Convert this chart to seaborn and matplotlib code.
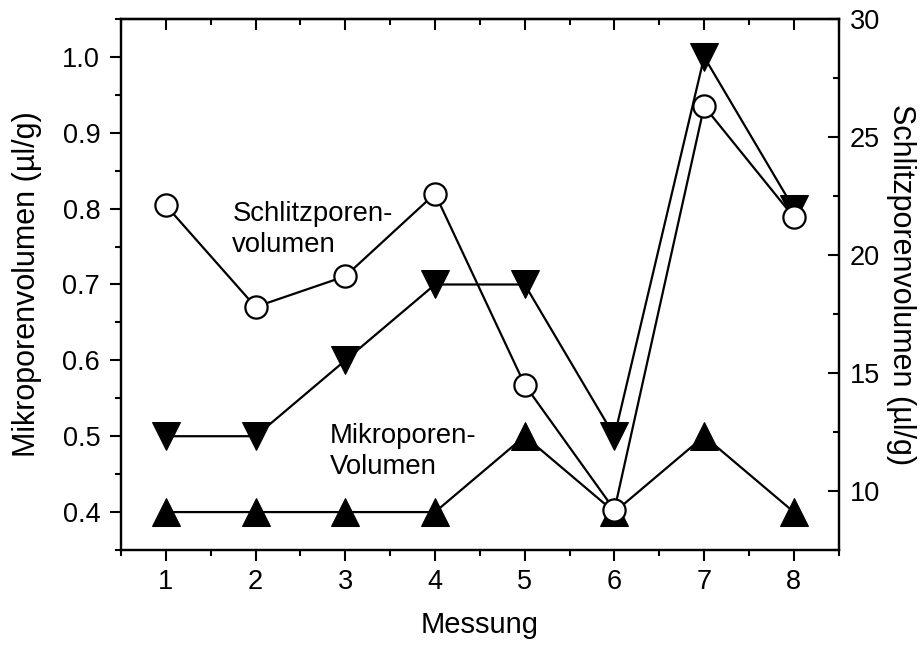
import matplotlib
matplotlib.use("Agg")
import matplotlib.pyplot as plt
import seaborn as sns
from matplotlib.ticker import MultipleLocator

# Data
messung = [1, 2, 3, 4, 5, 6, 7, 8]
mikro_down = [0.5, 0.5, 0.6, 0.7, 0.7, 0.5, 1.0, 0.8]
mikro_up = [0.4, 0.4, 0.4, 0.4, 0.5, 0.4, 0.5, 0.4]
schlitz = [22.1, 17.8, 19.1, 22.6, 14.5, 9.2, 26.3, 21.6]

sns.set_theme(style="white")
plt.rcParams["font.family"] = ["Liberation Sans", "DejaVu Sans"]
plt.rcParams["text.color"] = "black"

fig = plt.figure(figsize=(9.24, 6.46), dpi=100)
ax = fig.add_axes([0.131, 0.1486, 0.7767, 0.822])
ax2 = ax.twinx()

line_kw = dict(color="black", linewidth=1.6, markeredgecolor="black")
sns.lineplot(x=messung, y=mikro_up, ax=ax, marker="^", markersize=20,
             markerfacecolor="black", **line_kw)
sns.lineplot(x=messung, y=mikro_down, ax=ax, marker="v", markersize=20,
             markerfacecolor="black", **line_kw)
sns.lineplot(x=messung, y=schlitz, ax=ax2, marker="o", markersize=16,
             markerfacecolor="white", markeredgewidth=1.6, **line_kw)

ax.set_xlim(0.5, 8.5)
ax.set_ylim(0.35, 1.05)
ax2.set_ylim(7.5, 30)

ax.xaxis.set_major_locator(MultipleLocator(1))
ax.xaxis.set_minor_locator(MultipleLocator(0.5))
ax.yaxis.set_major_locator(MultipleLocator(0.1))
ax.yaxis.set_minor_locator(MultipleLocator(0.05))
ax2.yaxis.set_major_locator(MultipleLocator(5))
ax2.yaxis.set_minor_locator(MultipleLocator(2.5))
ax.yaxis.set_major_formatter(plt.FormatStrFormatter("%.1f"))

for a in (ax, ax2):
    for s in a.spines.values():
        s.set_visible(True)
        s.set_color("black")
        s.set_linewidth(1.6)

ax.tick_params(axis="both", which="major", direction="out", length=8, width=1.5,
               labelsize=19.5, color="black", labelcolor="black")
ax.tick_params(axis="both", which="minor", direction="out", length=4.5, width=1.5,
               color="black")
ax.tick_params(axis="y", which="both", left=True, right=False)
ax.tick_params(axis="y", which="major", pad=7)
ax.tick_params(axis="x", which="both", bottom=True, top=False)
ax.tick_params(axis="x", which="major", pad=6)
ax2.tick_params(axis="y", which="major", direction="in", length=8, width=1.5,
                labelsize=19.5, color="black", labelcolor="black", pad=8)
ax2.tick_params(axis="y", which="minor", direction="in", length=4.5, width=1.5,
                color="black")

# top axis ticks pointing inward, no labels
top = ax.secondary_xaxis("top")
top.xaxis.set_major_locator(MultipleLocator(1))
top.xaxis.set_minor_locator(MultipleLocator(0.5))
top.tick_params(axis="x", which="major", direction="in", length=8, width=1.5,
                labeltop=False, color="black")
top.tick_params(axis="x", which="minor", direction="in", length=4.5, width=1.5,
                color="black")
top.spines["top"].set_linewidth(1.6)

ax.set_xlabel("Messung", fontsize=21, labelpad=11, color="black")
ax.set_ylabel("Mikroporenvolumen (µl/g)", fontsize=22, labelpad=15, color="black")
ax2.set_ylabel("Schlitzporenvolumen (µl/g)", fontsize=22, rotation=270,
               labelpad=26, color="black")

ax.text(1.74, 0.773, "Schlitzporen-\nvolumen", fontsize=19.8, ha="left", va="center",
        linespacing=1.25)
ax.text(2.83, 0.48, "Mikroporen-\nVolumen", fontsize=19.8, ha="left", va="center",
        linespacing=1.25)

fig.savefig("out.png", dpi=100)
